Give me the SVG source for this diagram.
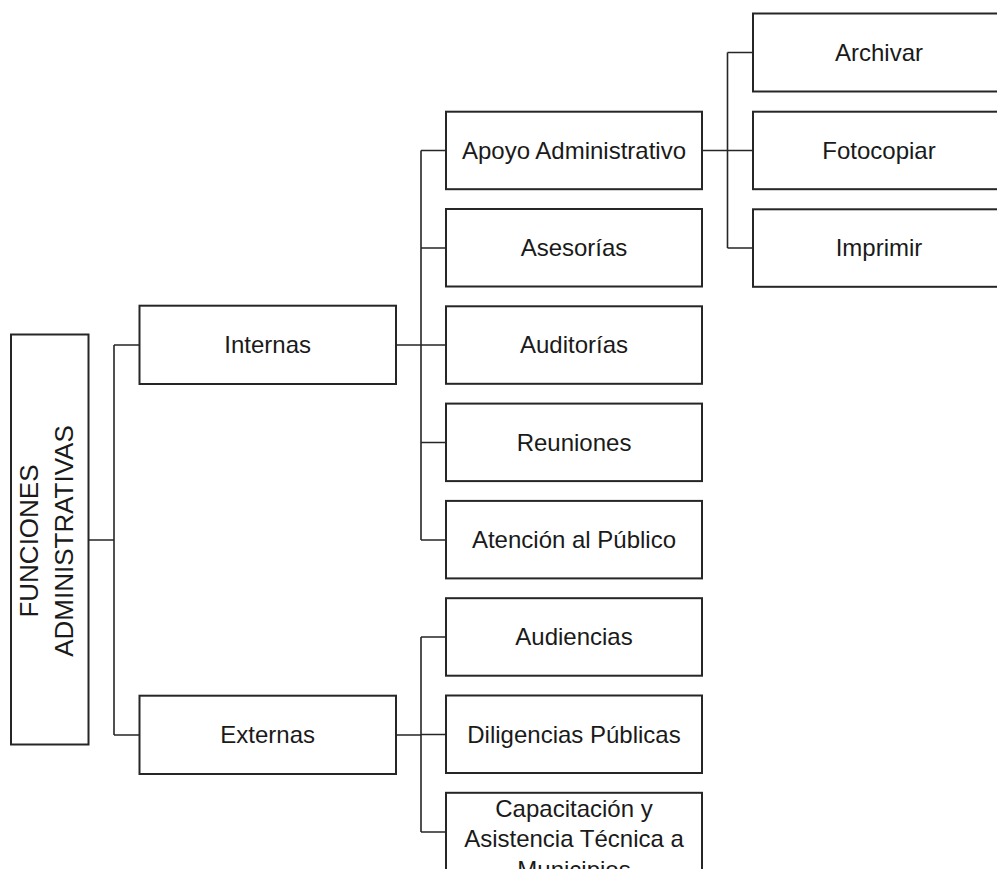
<svg xmlns="http://www.w3.org/2000/svg" width="997" height="869" viewBox="0 0 997 869">
<style>
.box{fill:#fff;stroke:#262626;stroke-width:2}
.lbl{font-family:"Liberation Sans",Arial,sans-serif;font-size:24px;fill:#1a1a1a;text-anchor:middle}
.root{font-family:"Liberation Sans",Arial,sans-serif;font-size:26px;fill:#1a1a1a;text-anchor:middle}
.con{fill:none;stroke:#262626;stroke-width:1.6}
</style>
<rect width="997" height="869" fill="#fff"/>
<g id="connectors">
<path class="con" d="M88.5,540 H114 M114,345 V735 M114,345 H139.5 M114,735 H139.5"/>
<path class="con" d="M396,345 H421 M421,150.5 V540 M421,150.5 H446 M421,248 H446 M421,345 H446 M421,442.5 H446 M421,540 H446"/>
<path class="con" d="M396,735 H421 M421,637 V832 M421,637 H446 M421,734.5 H446 M421,832 H446"/>
<path class="con" d="M702,150.5 H727.5 M727.5,52.5 V248 M727.5,52.5 H753 M727.5,150.5 H753 M727.5,248 H753"/>
</g>
<g id="root">
<rect class="box" x="11" y="334.5" width="77.5" height="410"/>
<text class="root" transform="translate(38,541) rotate(-90)">FUNCIONES</text>
<text class="root" transform="translate(73,541) rotate(-90)">ADMINISTRATIVAS</text>
</g>
<g id="internas">
<rect class="box" x="139.5" y="305.7" width="256.5" height="78.3"/>
<text class="lbl" x="267.7" y="353">Internas</text>
</g>
<g id="externas">
<rect class="box" x="139.5" y="695.7" width="256.5" height="78.3"/>
<text class="lbl" x="267.7" y="743">Externas</text>
</g>
<g id="apoyo">
<rect class="box" x="446" y="111.7" width="256" height="77.5"/>
<text class="lbl" x="574" y="158.5">Apoyo Administrativo</text>
</g>
<g id="asesorias">
<rect class="box" x="446" y="209" width="256" height="77.5"/>
<text class="lbl" x="574" y="256">Asesorías</text>
</g>
<g id="auditorias">
<rect class="box" x="446" y="306.3" width="256" height="77.5"/>
<text class="lbl" x="574" y="353">Auditorías</text>
</g>
<g id="reuniones">
<rect class="box" x="446" y="403.6" width="256" height="77.5"/>
<text class="lbl" x="574" y="450.5">Reuniones</text>
</g>
<g id="atencion">
<rect class="box" x="446" y="500.9" width="256" height="77.5"/>
<text class="lbl" x="574" y="548">Atención al Público</text>
</g>
<g id="audiencias">
<rect class="box" x="446" y="598.2" width="256" height="77.5"/>
<text class="lbl" x="574" y="645">Audiencias</text>
</g>
<g id="diligencias">
<rect class="box" x="446" y="695.5" width="256" height="77.5"/>
<text class="lbl" x="574" y="742.5">Diligencias Públicas</text>
</g>
<g id="capacitacion">
<rect class="box" x="446" y="792.8" width="256" height="77.5"/>
<text class="lbl" x="574" y="816.5">Capacitación y</text>
<text class="lbl" x="574" y="846.5">Asistencia Técnica a</text>
<text class="lbl" x="574" y="878">Municipios</text>
</g>
<g id="archivar">
<rect class="box" x="753" y="13.5" width="252" height="78"/>
<text class="lbl" x="879" y="60.5">Archivar</text>
</g>
<g id="fotocopiar">
<rect class="box" x="753" y="111.7" width="252" height="77.5"/>
<text class="lbl" x="879" y="158.5">Fotocopiar</text>
</g>
<g id="imprimir">
<rect class="box" x="753" y="209.3" width="252" height="77.5"/>
<text class="lbl" x="879" y="256">Imprimir</text>
</g>
</svg>
